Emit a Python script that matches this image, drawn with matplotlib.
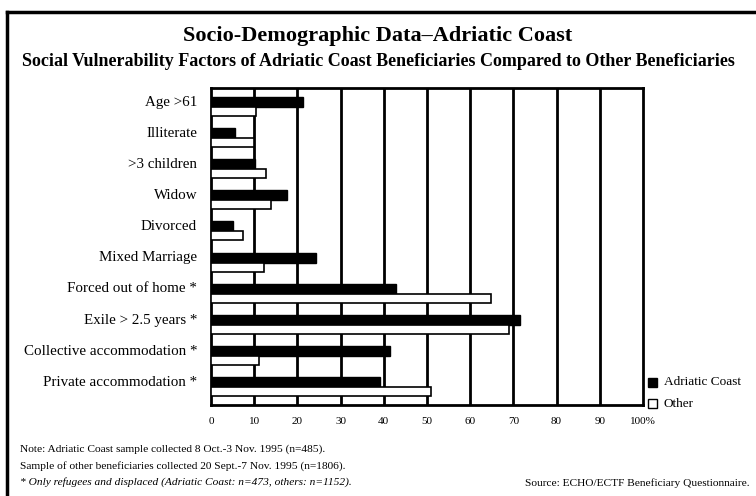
import matplotlib
matplotlib.use("Agg")
import matplotlib.pyplot as plt
from matplotlib.patches import Rectangle
from matplotlib.lines import Line2D
import numpy as np

plt.rcParams['font.family'] = ['Liberation Serif', 'DejaVu Serif']

categories = ["Age >61", "Illiterate", ">3 children", "Widow", "Divorced",
              "Mixed Marriage", "Forced out of home *", "Exile > 2.5 years *",
              "Collective accommodation *", "Private accommodation *"]
adriatic = [21.2, 5.6, 10.2, 17.7, 5.0, 24.3, 42.8, 71.5, 41.5, 39.1]
other = [10.4, 10.0, 12.7, 13.9, 7.4, 12.2, 64.9, 68.9, 11.2, 50.9]
xticks = [0, 10, 20, 30, 40, 50, 60, 70, 80, 90, 100]
xticklabels = ["0", "10", "20", "30", "40", "50", "60", "70", "80", "90", "100%"]

W, H = 756, 496
fig = plt.figure(figsize=(W / 100, H / 100), dpi=100)
ax = fig.add_axes([211 / W, 1 - 405 / H, (643 - 211) / W, (405 - 88) / H])

k = np.arange(len(categories))
hb, hw = 0.32, 0.29
ax.barh(k, adriatic, height=hb, align='edge', color='black',
        edgecolor='black', linewidth=1, zorder=3)
ax.barh(k + hb, other, height=hw, align='edge', color='white',
        edgecolor='black', linewidth=1.2, zorder=3)

ax.set_xlim(0, 100)
ax.set_ylim(len(categories) - 1 + hb + hw + 0.29, -0.29)
for x in xticks[1:-1]:
    ax.axvline(x, color='black', linewidth=2, zorder=1)
for s in ax.spines.values():
    s.set_linewidth(2)

ax.set_yticks(k + 0.12)
ax.set_yticklabels(categories, fontsize=10.8)
ax.set_xticks(xticks)
ax.set_xticklabels(xticklabels, fontsize=8)
ax.tick_params(length=0, pad=9)
ax.tick_params(axis='y', pad=10)

# legend
fig.patches.append(Rectangle((648 / W, 1 - 387 / H), 9 / W, 9 / H,
                             transform=fig.transFigure, facecolor='black',
                             edgecolor='black', lw=1))
fig.patches.append(Rectangle((648 / W, 1 - 408 / H), 9 / W, 9 / H,
                             transform=fig.transFigure, facecolor='white',
                             edgecolor='black', lw=1))
fig.text(664 / W, 1 - 382 / H, "Adriatic Coast", fontsize=9.5, va='center')
fig.text(664 / W, 1 - 404 / H, "Other", fontsize=9.5, va='center')

# titles
fig.text(0.5, 1 - 36 / H, "Socio-Demographic Data\u2013Adriatic Coast",
         fontsize=16, fontweight='bold', ha='center', va='center')
fig.text(0.5, 1 - 61 / H,
         "Social Vulnerability Factors of Adriatic Coast Beneficiaries Compared to Other Beneficiaries",
         fontsize=13, fontweight='bold', ha='center', va='center')

# notes
fig.text(20 / W, 1 - 449 / H,
         "Note: Adriatic Coast sample collected 8 Oct.-3 Nov. 1995 (n=485).",
         fontsize=8.2, va='center')
fig.text(20 / W, 1 - 466 / H,
         "Sample of other beneficiaries collected 20 Sept.-7 Nov. 1995 (n=1806).",
         fontsize=8.2, va='center')
fig.text(20 / W, 1 - 482 / H,
         "* Only refugees and displaced (Adriatic Coast: n=473, others: n=1152).",
         fontsize=8.2, style='italic', va='center')
fig.text(750 / W, 1 - 483 / H, "Source: ECHO/ECTF Beneficiary Questionnaire.",
         fontsize=8.2, ha='right', va='center')

# outer frame
fig.add_artist(Line2D([7 / W, 7 / W], [0, 1 - 12 / H], transform=fig.transFigure,
                      color='black', lw=2.5))
fig.add_artist(Line2D([7 / W, 1], [1 - 12 / H, 1 - 12 / H], transform=fig.transFigure,
                      color='black', lw=2.5))

fig.savefig("out.png", dpi=100)
